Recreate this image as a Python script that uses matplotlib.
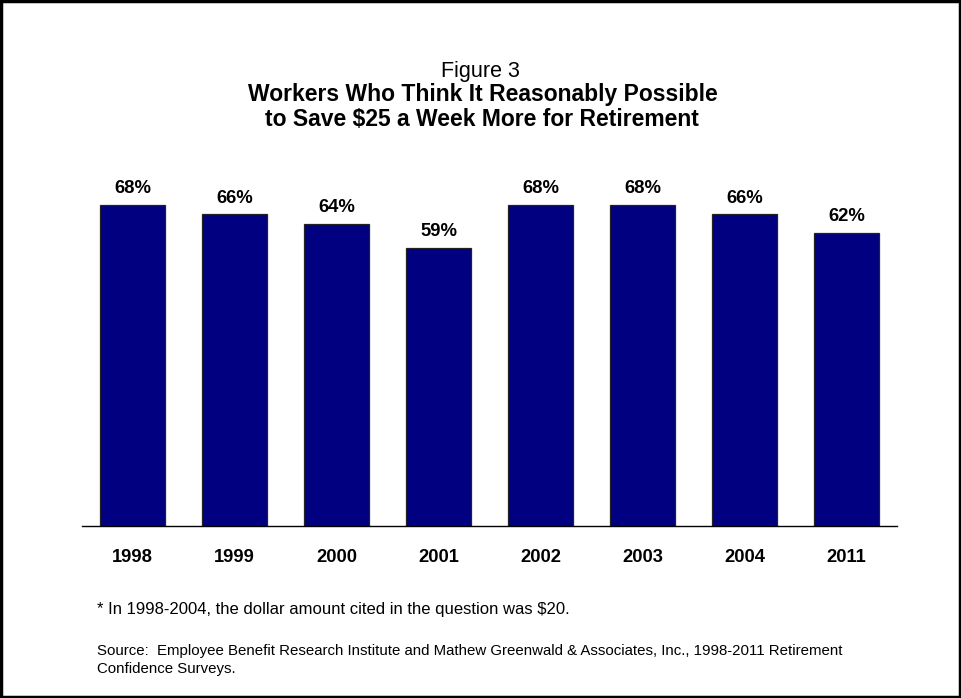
"""
Figure 3: Workers who think it reasonably possible to save $25 a week more
for retirement, 1998-2011.
"""
import matplotlib
matplotlib.use('Agg')
import matplotlib.pyplot as plt
from matplotlib.patches import Rectangle
import numpy as np

plt.rcParams['font.family'] = ['Liberation Sans', 'DejaVu Sans']

# ── Data ───────────────────────────────────────────────────────────────────────
years = ['1998', '1999', '2000', '2001', '2002', '2003', '2004', '2011']
pct_possible = [68, 66, 64, 59, 68, 68, 66, 62]

NAVY = '#000080'

# ── Figure ─────────────────────────────────────────────────────────────────────
W, H = 961, 698
fig = plt.figure(figsize=(W / 100, H / 100), dpi=100)

def fy(px):
    return 1 - px / H

# plot area in pixel terms
ax_left, ax_right = 82, 897
ax_base, ax_top = 526, 526 - 80 * 4.72
ax = fig.add_axes([ax_left / W, fy(ax_base), (ax_right - ax_left) / W,
                   (ax_base - ax_top) / H])

x = np.arange(len(years))
bars = ax.bar(x, pct_possible, width=0.637, color=NAVY, edgecolor='#222222',
              linewidth=0.9, zorder=2)

for xi, v in zip(x, pct_possible):
    ax.annotate(f"{v}%", (xi, v), xytext=(0, 8.6), textcoords='offset points',
                ha='center', va='baseline', fontsize=13.3, fontweight='bold')

ax.set_xlim(-0.495, len(years) - 0.505)
ax.set_ylim(0, 80)
ax.set_yticks([])
ax.set_xticks(x)
ax.set_xticklabels(years, fontsize=13.2, fontweight='bold')
ax.tick_params(axis='x', length=0, pad=16.5)
for side in ['top', 'right', 'left']:
    ax.spines[side].set_visible(False)
ax.spines['bottom'].set_linewidth(1.0)
ax.patch.set_alpha(0)

# ── Titles ─────────────────────────────────────────────────────────────────────
fig.text(0.5, fy(77), "Figure 3", ha='center', va='baseline', fontsize=15.5)
fig.text(0.502, fy(101.5), "Workers Who Think It Reasonably Possible",
         ha='center', va='baseline', fontsize=16.5, fontweight='bold')
fig.text(0.502, fy(126), "to Save $25 a Week More for Retirement",
         ha='center', va='baseline', fontsize=16.5, fontweight='bold')

# ── Notes ──────────────────────────────────────────────────────────────────────
fig.text(97 / W, fy(614), "* In 1998-2004, the dollar amount cited in the question was $20.",
         ha='left', va='baseline', fontsize=12)
fig.text(97 / W, fy(655),
         "Source:  Employee Benefit Research Institute and Mathew Greenwald & Associates, Inc., "
         "1998-2011 Retirement", ha='left', va='baseline', fontsize=10.8)
fig.text(97 / W, fy(673), "Confidence Surveys.", ha='left', va='baseline', fontsize=10.8)

# outer frame
fig.patches.append(Rectangle((0.0015, 0.002), 0.997, 0.996, transform=fig.transFigure,
                             fill=False, edgecolor='black', linewidth=2.5))

fig.savefig('out.png', dpi=100)
